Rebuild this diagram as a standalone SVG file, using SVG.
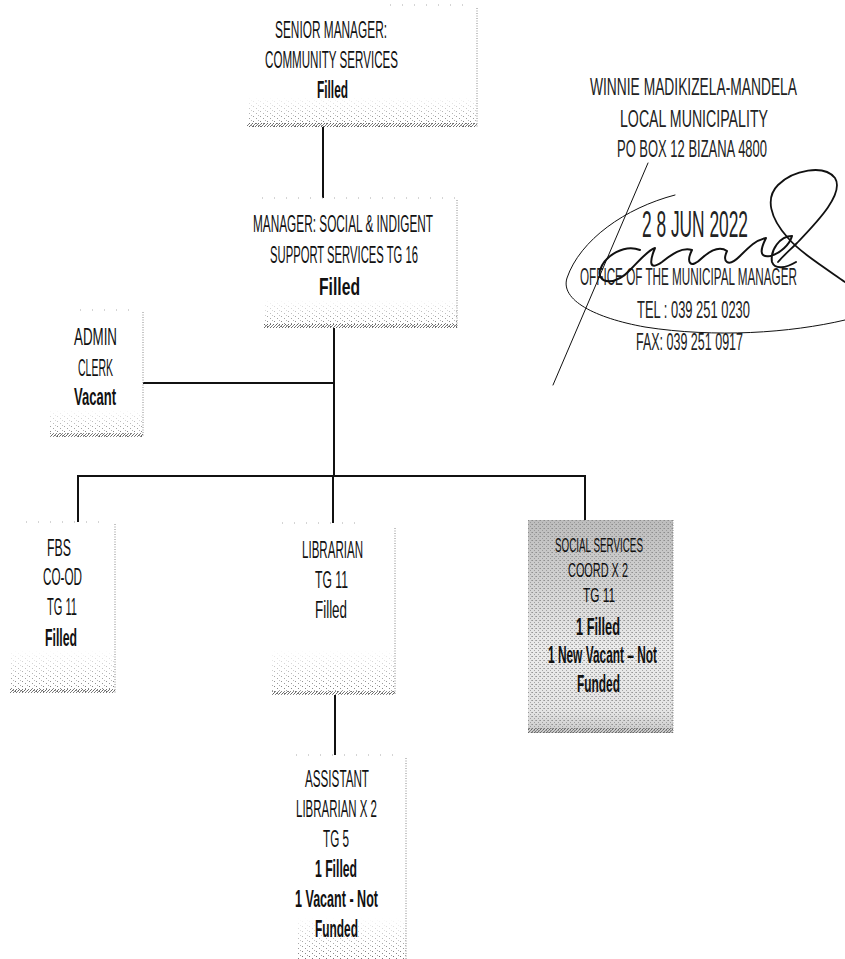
<svg xmlns="http://www.w3.org/2000/svg" width="845" height="959" viewBox="0 0 845 959">
<style>
.t{font-family:"Liberation Sans Narrow","Liberation Sans",Arial,sans-serif;font-size:23px;fill:#111;}
.b{font-weight:bold;}
.s{font-family:"Liberation Sans Narrow","Liberation Sans",Arial,sans-serif;font-size:17px;fill:#222;}
.edge{stroke:#888;stroke-width:1;stroke-dasharray:1 1.5;fill:none;}
.topd{stroke:#aaa;stroke-width:1;stroke-dasharray:1 11;fill:none;}
.con{stroke:#111;stroke-width:2;fill:none;}
.sig{stroke:#111;fill:none;stroke-linecap:round;stroke-linejoin:round;}
</style>
<defs>
<pattern id="dots" width="7" height="5" patternUnits="userSpaceOnUse">
<rect x="1" y="1" width="1" height="1" fill="#666"/>
<rect x="4" y="3" width="1" height="1" fill="#777"/>
<rect x="6" y="0" width="1" height="1" fill="#999"/>
</pattern>
<pattern id="dense" width="3" height="3" patternUnits="userSpaceOnUse">
<rect x="0" y="0" width="1" height="1" fill="#666"/>
<rect x="2" y="1" width="1" height="1" fill="#888"/>
<rect x="1" y="2" width="1" height="1" fill="#777"/>
</pattern>
<pattern id="gdots" width="4" height="4" patternUnits="userSpaceOnUse">
<rect x="0" y="0" width="1" height="1" fill="#777"/>
<rect x="2" y="2" width="1" height="1" fill="#888"/>
<rect x="3" y="0" width="1" height="1" fill="#999"/>
</pattern>
<linearGradient id="fade" x1="0" y1="0" x2="0" y2="1">
<stop offset="0" stop-color="#000"/>
<stop offset="1" stop-color="#fff"/>
</linearGradient>
<mask id="m" maskContentUnits="objectBoundingBox">
<rect width="1" height="1" fill="url(#fade)"/>
</mask>
<linearGradient id="sg" x1="0" y1="0" x2="0" y2="1">
<stop offset="0" stop-color="#bdbdbd"/>
<stop offset="0.3" stop-color="#d2d2d2"/>
<stop offset="0.6" stop-color="#ebebeb"/>
<stop offset="0.9" stop-color="#e4e4e4"/>
<stop offset="1" stop-color="#c8c8c8"/>
</linearGradient>
</defs>
<rect width="845" height="959" fill="#fff"/>

<g id="connectors">
<line class="con" x1="323" y1="127" x2="323" y2="198"/>
<line class="con" x1="334" y1="328" x2="334" y2="476"/>
<line class="con" x1="143" y1="383" x2="334" y2="383"/>
<line class="con" x1="77" y1="476" x2="586" y2="476"/>
<line class="con" x1="78" y1="476" x2="78" y2="522"/>
<line class="con" x1="333" y1="476" x2="333" y2="523"/>
<line class="con" x1="585" y1="476" x2="585" y2="520"/>
<line class="con" x1="335" y1="695" x2="335" y2="755"/>
</g>

<g id="senior-manager">
<line class="topd" x1="390" y1="5" x2="470" y2="5"/>
<line class="edge" x1="477" y1="8" x2="477" y2="127"/>
<rect x="247" y="97" width="230" height="30" fill="url(#dots)" mask="url(#m)"/>
<rect x="247" y="123" width="230" height="4" fill="url(#dense)"/>
<text class="t" x="275" y="38" textLength="112" lengthAdjust="spacingAndGlyphs">SENIOR MANAGER:</text>
<text class="t" x="265" y="68" textLength="133" lengthAdjust="spacingAndGlyphs">COMMUNITY SERVICES</text>
<text class="t b" x="317" y="98" textLength="31" lengthAdjust="spacingAndGlyphs">Filled</text>
</g>

<g id="manager-social">
<line class="topd" x1="262" y1="198" x2="455" y2="198"/>
<line class="edge" x1="457" y1="200" x2="457" y2="328"/>
<rect x="264" y="300" width="193" height="28" fill="url(#dots)" mask="url(#m)"/>
<rect x="264" y="324" width="193" height="4" fill="url(#dense)"/>
<text class="t" x="253" y="232" textLength="180" lengthAdjust="spacingAndGlyphs">MANAGER: SOCIAL &amp; INDIGENT</text>
<text class="t" x="270" y="263" textLength="148" lengthAdjust="spacingAndGlyphs">SUPPORT SERVICES TG 16</text>
<text class="t b" x="319" y="295" textLength="41" lengthAdjust="spacingAndGlyphs">Filled</text>
</g>

<g id="admin-clerk">
<line class="topd" x1="80" y1="310" x2="140" y2="310"/>
<line class="edge" x1="143" y1="312" x2="143" y2="437"/>
<rect x="50" y="410" width="93" height="27" fill="url(#dots)" mask="url(#m)"/>
<rect x="50" y="433" width="93" height="4" fill="url(#dense)"/>
<text class="t" x="74" y="345" textLength="43" lengthAdjust="spacingAndGlyphs">ADMIN</text>
<text class="t" x="78" y="376" textLength="35" lengthAdjust="spacingAndGlyphs">CLERK</text>
<text class="t b" x="74" y="405" textLength="42" lengthAdjust="spacingAndGlyphs">Vacant</text>
</g>

<g id="fbs-coord">
<line class="topd" x1="26" y1="522" x2="110" y2="522"/>
<line class="edge" x1="115" y1="524" x2="115" y2="693"/>
<rect x="10" y="650" width="105" height="43" fill="url(#dots)" mask="url(#m)"/>
<rect x="10" y="689" width="105" height="4" fill="url(#dense)"/>
<text class="t" x="47" y="556" textLength="24" lengthAdjust="spacingAndGlyphs">FBS</text>
<text class="t" x="43" y="585" textLength="39" lengthAdjust="spacingAndGlyphs">CO-OD</text>
<text class="t" x="47" y="615" textLength="30" lengthAdjust="spacingAndGlyphs">TG 11</text>
<text class="t b" x="45" y="646" textLength="32" lengthAdjust="spacingAndGlyphs">Filled</text>
</g>

<g id="librarian">
<line class="topd" x1="282" y1="523" x2="362" y2="523"/>
<line class="edge" x1="395" y1="528" x2="395" y2="695"/>
<rect x="272" y="650" width="123" height="45" fill="url(#dots)" mask="url(#m)"/>
<rect x="272" y="691" width="123" height="4" fill="url(#dense)"/>
<text class="t" x="302" y="558" textLength="61" lengthAdjust="spacingAndGlyphs">LIBRARIAN</text>
<text class="t" x="315" y="588" textLength="33" lengthAdjust="spacingAndGlyphs">TG 11</text>
<text class="t" x="315" y="618" textLength="32" lengthAdjust="spacingAndGlyphs">Filled</text>
</g>

<g id="social-services-coord">
<rect x="528" y="520" width="145" height="213" fill="url(#sg)"/>
<rect x="528" y="520" width="145" height="213" fill="url(#gdots)" opacity="0.7"/>
<rect x="528" y="728" width="145" height="5" fill="url(#dense)"/>
<line class="edge" x1="673" y1="520" x2="673" y2="733"/>
<text class="t" x="555" y="552" textLength="88" lengthAdjust="spacingAndGlyphs" style="font-size:20px">SOCIAL SERVICES</text>
<text class="t" x="568" y="577" textLength="60" lengthAdjust="spacingAndGlyphs" style="font-size:20px">COORD X 2</text>
<text class="t" x="583" y="602" textLength="32" lengthAdjust="spacingAndGlyphs" style="font-size:20px">TG 11</text>
<text class="t b" x="576" y="635" textLength="44" lengthAdjust="spacingAndGlyphs">1 Filled</text>
<text class="t b" x="548" y="663" textLength="109" lengthAdjust="spacingAndGlyphs">1 New Vacant – Not</text>
<text class="t b" x="577" y="692" textLength="43" lengthAdjust="spacingAndGlyphs">Funded</text>
</g>

<g id="assistant-librarian">
<line class="topd" x1="296" y1="755" x2="400" y2="755"/>
<line class="edge" x1="406" y1="758" x2="406" y2="959"/>
<rect x="296" y="918" width="110" height="41" fill="url(#dots)" mask="url(#m)"/>
<text class="t" x="305" y="787" textLength="64" lengthAdjust="spacingAndGlyphs">ASSISTANT</text>
<text class="t" x="296" y="817" textLength="81" lengthAdjust="spacingAndGlyphs">LIBRARIAN X 2</text>
<text class="t" x="323" y="847" textLength="26" lengthAdjust="spacingAndGlyphs">TG 5</text>
<text class="t b" x="315" y="877" textLength="42" lengthAdjust="spacingAndGlyphs">1 Filled</text>
<text class="t b" x="295" y="907" textLength="83" lengthAdjust="spacingAndGlyphs">1 Vacant - Not</text>
<text class="t b" x="315" y="937" textLength="43" lengthAdjust="spacingAndGlyphs">Funded</text>
</g>

<g id="stamp">
<text class="s" x="590" y="95" textLength="207" lengthAdjust="spacingAndGlyphs" transform="translate(0,95) scale(1,1.4) translate(0,-95)">WINNIE MADIKIZELA-MANDELA</text>
<text class="s" x="620" y="127" textLength="148" lengthAdjust="spacingAndGlyphs" transform="translate(0,127) scale(1,1.4) translate(0,-127)">LOCAL MUNICIPALITY</text>
<text class="s" x="617" y="157" textLength="150" lengthAdjust="spacingAndGlyphs" transform="translate(0,157) scale(1,1.4) translate(0,-157)">PO BOX 12 BIZANA 4800</text>
<text class="s" x="642" y="237" textLength="106" lengthAdjust="spacingAndGlyphs" style="font-size:27px" transform="translate(0,237) scale(1,1.4) translate(0,-237)">2 8 JUN 2022</text>
<text class="s" x="580" y="285" textLength="217" lengthAdjust="spacingAndGlyphs" style="font-size:14px" transform="translate(0,285) scale(1,1.7) translate(0,-285)">OFFICE OF THE MUNICIPAL MANAGER</text>
<text class="s" x="637" y="318" textLength="113" lengthAdjust="spacingAndGlyphs" transform="translate(0,318) scale(1,1.4) translate(0,-318)">TEL : 039 251 0230</text>
<text class="s" x="636" y="350" textLength="107" lengthAdjust="spacingAndGlyphs" transform="translate(0,350) scale(1,1.4) translate(0,-350)">FAX: 039 251 0917</text>
</g>

<g id="signature">
<path class="sig" stroke-width="1" d="M648,163 L553,385"/>
<path class="sig" stroke-width="1" d="M675,195 C625,208 580,240 567,278 C560,300 595,318 645,327 C715,338 790,333 845,320"/>
<path class="sig" stroke-width="1.8" d="M845,282 C822,266 800,252 788,238 C770,218 765,198 778,185 C793,170 824,164 835,178 C845,194 815,224 797,243 C790,250 783,256 778,262"/>
<path class="sig" stroke-width="2" d="M640,250 C625,244 605,255 600,270 C597,284 615,286 630,270 C640,260 648,250 655,248 C650,260 648,272 662,262 C672,254 682,247 692,250 C686,262 690,270 702,258 C712,249 720,246 727,251 C722,262 728,268 740,256 C750,246 756,240 766,238 C761,248 758,258 770,256 C780,254 790,244 792,236 C780,236 770,250 772,262 C775,270 786,268 796,262"/>
</g>
</svg>
